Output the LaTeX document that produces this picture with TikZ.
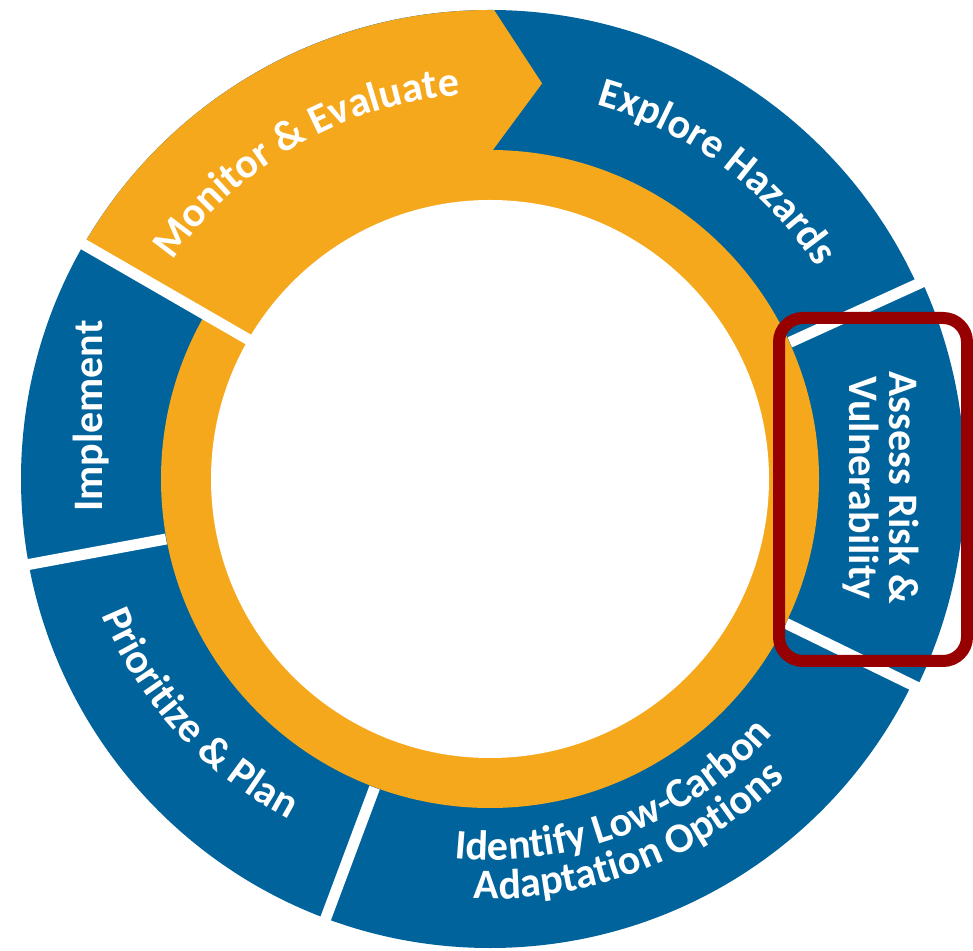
\documentclass[tikz,border=0pt]{standalone}
\usepackage{fontspec}
\setmainfont{Carlito}
\usetikzlibrary{calc,decorations.text}
\definecolor{ringblue}{RGB}{0,99,156}
\definecolor{ringorange}{RGB}{246,168,29}
\definecolor{boxred}{RGB}{150,0,0}
\newcommand\arcfmt{\fontsize{42}{40}\selectfont\bfseries\color{white}}
\tikzset{
  lbl/.style={text=white, font=\fontsize{42}{40}\selectfont\bfseries, inner sep=0pt},
  gapline/.style={white, line width=11pt},
  arctext/.style={decorate, decoration={text along path, text align=center, text={#1}}},
}
\begin{document}
\begin{tikzpicture}[x=1pt,y=1pt]
\useasboundingbox (0,0) rectangle (973,950);
\fill[white] (0,0) rectangle (973,950);
\coordinate (C) at (490,471);
% blue outer ring
\fill[ringblue] (C) circle (469);
\fill[ringblue] ($(C)+(-26:329)$) arc[start angle=-26, end angle=24.5, radius=329]
  -- ($(C)+(24.5:475)$) arc[start angle=24.5, end angle=-26, radius=475] -- cycle;
% orange inner ring
\fill[ringorange] (C) circle (329);
% orange monitor arrow (overlaps the ring so no seam shows)
\fill[ringorange] ($(C)+(150:469)$) arc[start angle=150, end angle=89.5, radius=469]
  -- ($(C)+(82.5:399)$) -- ($(C)+(89.5:329)$) -- ($(C)+(89.5:300)$)
  arc[start angle=89.5, end angle=150, radius=300] -- cycle;
\fill[white] (C) circle (279);
% gaps
\draw[gapline] ($(C)+(150:268)$) -- ($(C)+(150:485)$);
\draw[gapline] ($(C)+(190.5:329.5)$) -- ($(C)+(190.5:485)$);
\draw[gapline] ($(C)+(249.5:329.5)$) -- ($(C)+(249.5:485)$);
\draw[gapline] ($(C)+(334:329.5)$) -- ($(C)+(334:485)$);
\draw[gapline] ($(C)+(24.5:329.5)$) -- ($(C)+(24.5:485)$);
% curved labels
\path[arctext={|\arcfmt|Monitor {\&} Evaluate}] ($(C)+(160:385)$) arc[start angle=160, end angle=80, radius=385];
\path[arctext={|\arcfmt|Explore Hazards}] ($(C)+(93.5:389)$) arc[start angle=93.5, end angle=13.5, radius=389];
\path[arctext={|\arcfmt|Prioritize {\&} Plan}] plot[domain=180:260, samples=81]
  ({490+(403-0.4*(\x-220))*cos(\x)}, {471+(403-0.4*(\x-220))*sin(\x)});
\path[arctext={|\arcfmt|Identify Low-Carbon}] ($(C)+(246:381)$) arc[start angle=246, end angle=336.6, radius=381];
\path[arctext={|\arcfmt|Adaptation Options}] ($(C)+(246:420)$) arc[start angle=246, end angle=336.4, radius=420];
% straight labels
\node[lbl, rotate=90, anchor=base] (impl) at (102,534) {Implement};
\node[lbl, rotate=-90, anchor=base] (assess1) at (889,462) {Assess Risk \&};
\node[lbl, rotate=-90, anchor=base] (assess2) at (849,462) {Vulnerability};
% highlight box
\draw[boxred, line width=12pt, rounded corners=24pt] (779,632) rectangle (967,289);
\end{tikzpicture}
\end{document}
